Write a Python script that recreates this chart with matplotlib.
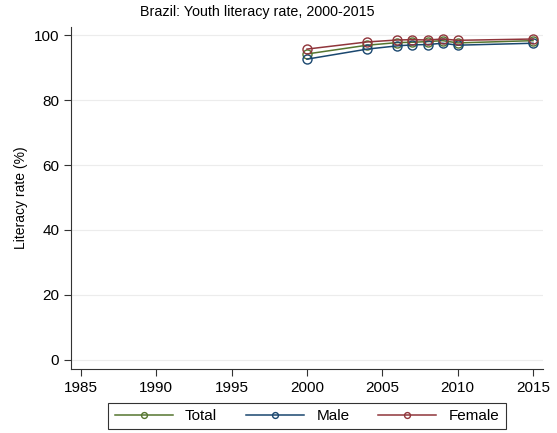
import numpy as np
import matplotlib
matplotlib.use("Agg")
import matplotlib.pyplot as plt

plt.rcParams['font.family'] = ['Liberation Sans', 'DejaVu Sans']

years = [2000, 2004, 2006, 2007, 2008, 2009, 2010, 2015]
total = [94.2, 96.9, 97.7, 97.8, 98.0, 98.3, 97.6, 98.3]
male = [92.6, 95.7, 96.7, 97.0, 97.1, 97.5, 96.9, 97.5]
female = [95.7, 97.9, 98.5, 98.6, 98.5, 98.8, 98.4, 98.8]

series = [("Total", total, "#55752f"),
          ("Male", male, "#1a476f"),
          ("Female", female, "#90353b")]

fig = plt.figure(figsize=(5.57, 4.33), dpi=100)
ax = fig.add_axes([71/557, 1 - 369/433, 472/557, 342/433])

for name, vals, col in series:
    ax.plot(years, vals, color=col, lw=1.1, marker='o', ms=6.5,
            mfc='none', mec=col, mew=1.0, label=name)

ax.set_xlim(1984.34, 2015.66)
ax.set_ylim(-2.8, 102.5)
ax.set_xticks(np.arange(1985, 2016, 5))
ax.set_yticks(np.arange(0, 101, 20))
ax.yaxis.grid(True, color='#ececec', lw=0.8)
ax.set_axisbelow(True)
for s in ['top', 'right']:
    ax.spines[s].set_visible(False)
for s in ['left', 'bottom']:
    ax.spines[s].set_color('#333333')
    ax.spines[s].set_linewidth(0.8)
ax.tick_params(labelsize=11, length=5, width=0.8, color='#333333')
ax.set_ylabel("Literacy rate (%)", fontsize=10)
fig.text(257.5/557, 1 - 12/433, "Brazil: Youth literacy rate, 2000-2015",
         fontsize=10.3, ha='center', va='center')

leg = fig.legend(*ax.get_legend_handles_labels(), loc='upper center',
                 bbox_to_anchor=(307/557, 1 - 403/433), ncol=3,
                 fontsize=11, frameon=True, fancybox=False, edgecolor='black',
                 handlelength=3.8, handletextpad=0.8, columnspacing=1.9,
                 borderpad=0.4, borderaxespad=0, markerscale=0.65)
leg.get_frame().set_linewidth(0.8)

fig.savefig("out.png", dpi=100)
